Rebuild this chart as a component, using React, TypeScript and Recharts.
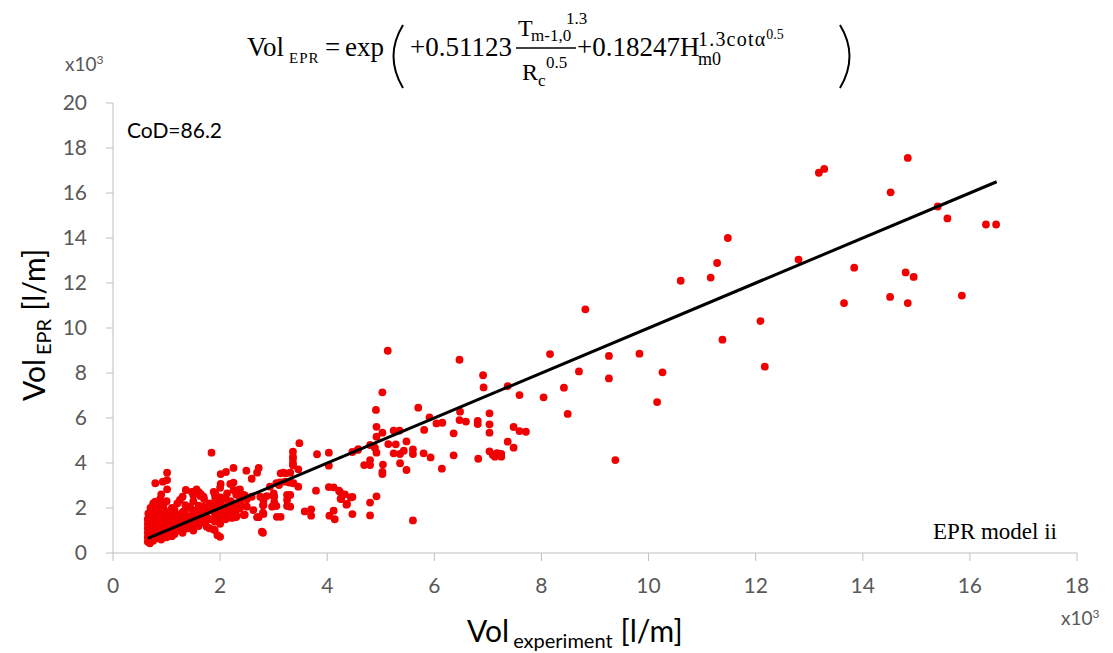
import { ScatterChart, Scatter, XAxis, YAxis } from 'recharts'

const RED = '#f00000'
const AXIS = '#bfbfbf'
const TICK_TXT = '#595959'
const SANS = 'Lato, "Open Sans", sans-serif'
const SERIF = '"Liberation Serif", "DejaVu Serif", serif'

const X_TICKS = [0, 2, 4, 6, 8, 10, 12, 14, 16, 18]
const Y_TICKS = [0, 2, 4, 6, 8, 10, 12, 14, 16, 18, 20]

// trend line end points (y = x), in x10^3 l/m
const FIT = [[0.65, 0.65], [16.5, 16.5]]

// dense cloud near the origin
const CLUSTER = [
  [0.65, 0.5], [0.65, 0.7], [0.65, 0.9], [0.65, 1.1], [0.65, 1.3], [0.65, 1.5],
  [0.7, 0.6], [0.7, 0.8], [0.7, 1.0], [0.7, 1.2], [0.7, 1.4], [0.7, 1.8], [0.7, 2.0],
  [0.75, 0.55], [0.75, 0.85], [0.75, 1.05], [0.75, 1.25], [0.75, 1.9], [0.75, 2.2],
  [0.8, 0.65], [0.8, 0.9], [0.8, 1.15], [0.8, 1.35], [0.8, 1.55], [0.8, 1.75], [0.8, 2.0],
  [0.85, 0.7], [0.85, 1.0], [0.85, 1.3], [0.85, 1.5], [0.85, 1.8], [0.85, 2.1],
  [0.9, 0.6], [0.9, 0.95], [0.9, 1.2], [0.9, 1.45], [0.9, 1.7], [0.9, 2.6],
  [0.95, 0.8], [0.95, 1.1], [0.95, 1.4], [0.95, 1.6], [0.95, 1.95],
  [1.0, 0.7], [1.0, 1.0], [1.0, 1.3], [1.0, 1.55], [1.0, 1.8], [1.0, 2.3],
  [1.05, 0.9], [1.05, 1.15], [1.05, 1.5], [1.05, 1.75],
  [1.1, 0.75], [1.1, 1.05], [1.1, 1.35], [1.1, 1.6], [1.1, 2.0],
  [1.15, 0.85], [1.15, 1.2], [1.15, 1.45], [1.15, 1.9],
  [1.2, 1.0], [1.2, 1.3], [1.2, 1.7], [1.2, 2.2],
  [1.3, 0.9], [1.3, 1.2], [1.3, 1.5], [1.3, 1.8], [1.3, 2.5],
  [1.4, 1.1], [1.4, 1.4], [1.4, 1.65], [1.4, 2.0],
  [1.5, 1.0], [1.5, 1.3], [1.5, 1.6], [1.5, 1.9], [1.5, 2.3],
  [1.6, 1.2], [1.6, 1.5], [1.6, 1.8], [1.6, 2.1], [1.6, 2.7],
  [1.7, 1.35], [1.7, 1.7], [1.7, 2.0], [1.7, 2.4],
  [1.8, 1.1], [1.8, 1.5], [1.8, 1.9], [1.8, 2.2],
  [1.9, 1.4], [1.9, 1.8], [1.9, 2.1], [1.9, 2.6],
  [2.0, 1.3], [2.0, 1.6], [2.0, 1.9], [2.0, 2.2], [2.0, 2.9],
  [2.1, 1.5], [2.1, 1.8], [2.1, 2.05], [2.1, 2.4],
  [2.2, 1.7], [2.2, 2.0], [2.2, 2.3],
  [2.3, 1.6], [2.3, 1.9], [2.3, 2.2], [2.3, 2.6],
  [2.4, 2.1], [2.4, 2.4],
]

// x below ~3
const LOW = [
  [1.84, 4.46], [0.79, 3.1], [1.01, 3.57], [1.01, 3.24], [1.01, 2.83], [2.01, 3.51], [2.11, 3.6],
  [2.25, 3.78], [2.49, 3.66], [2.72, 3.78], [2.69, 3.57], [2.59, 3.3], [2.01, 3.07], [2.19, 3.07],
  [2.25, 2.8], [1.36, 2.8], [1.56, 2.83], [1.5, 2.58], [1.63, 2.53], [1.91, 2.65], [1.91, 2.43],
  [2.01, 2.47], [2.35, 2.8], [2.35, 2.56], [2.46, 2.56], [2.5, 2.39], [2.81, 2.32], [3.0, 2.53],
  [3.18, 3.57], [3.31, 3.57], [3.36, 4.19], [3.36, 3.9], [2.8, 2.12], [3.01, 2.12], [2.8, 1.79],
  [2.69, 1.59], [2.8, 0.9], [2.46, 1.7], [2.31, 1.64], [2.22, 1.56], [1.9, 1.02], [2.0, 0.72],
  [1.95, 0.79], [0.93, 3.17], [1.47, 2.72], [1.64, 2.62], [0.79, 2.28], [0.88, 2.39], [0.94, 2.13],
  [1.25, 2.36], [1.35, 2.13], [1.44, 2.06], [1.31, 1.84], [1.25, 1.61], [0.66, 1.76], [0.75, 1.61],
  [0.69, 1.17], [0.66, 0.72], [0.69, 0.43], [2.25, 3.13], [1.88, 2.72], [1.93, 2.53], [2.13, 2.65],
  [2.31, 2.65], [2.37, 2.83], [2.44, 2.58], [2.59, 2.5], [2.75, 2.5], [2.87, 2.53], [3.0, 2.65],
  [3.1, 3.02], [1.69, 2.5], [1.69, 2.06], [1.81, 2.13], [1.94, 2.06], [2.03, 1.91], [2.12, 1.99],
  [2.22, 1.91], [2.31, 2.13], [2.37, 1.99], [2.5, 2.06], [2.62, 1.91], [2.81, 2.13], [2.97, 2.06],
  [1.75, 1.61], [1.91, 1.69], [2.0, 1.54], [2.13, 1.61], [2.25, 1.59], [2.44, 1.69], [2.72, 1.59],
  [2.81, 1.73], [3.06, 1.61], [1.66, 1.39], [1.75, 1.17], [1.88, 1.05], [2.78, 0.95],
]

// x between ~3 and 8
const MID = [
  [5.13, 8.99], [6.47, 8.59], [6.91, 7.9], [6.92, 7.36], [7.37, 7.42], [7.59, 7.02], [5.03, 7.14],
  [4.91, 6.36], [5.7, 6.46], [5.91, 6.03], [6.48, 6.28], [7.03, 6.21], [6.04, 5.76], [6.15, 5.79],
  [6.47, 5.91], [6.59, 5.84], [6.81, 5.87], [6.81, 5.73], [7.03, 5.72], [7.03, 5.35], [7.48, 5.6],
  [7.59, 5.42], [7.71, 5.39], [4.92, 5.61], [5.03, 5.35], [4.92, 5.17], [5.24, 5.44], [5.35, 5.44],
  [5.81, 5.47], [6.36, 5.32], [5.14, 4.84], [5.28, 4.83], [5.48, 4.96], [4.8, 4.8], [4.89, 4.68],
  [4.92, 4.46], [5.24, 4.43], [5.36, 4.4], [5.43, 4.55], [5.6, 4.61], [5.6, 4.4], [5.8, 4.43],
  [5.93, 4.25], [6.36, 4.34], [6.82, 4.19], [7.03, 4.52], [7.09, 4.37], [7.17, 4.44], [7.25, 4.4],
  [7.13, 4.28], [7.25, 4.28], [7.37, 4.95], [7.48, 4.68], [4.47, 4.49], [4.58, 4.62], [4.69, 3.91],
  [4.8, 3.91], [4.8, 4.13], [5.04, 3.93], [5.03, 3.61], [5.03, 3.51], [5.36, 3.99], [5.48, 3.69],
  [6.14, 3.75], [4.03, 4.46], [3.81, 4.39], [4.03, 3.88], [3.48, 4.88], [3.36, 4.5], [3.36, 4.28],
  [3.36, 3.99], [3.46, 3.72], [3.46, 2.95], [3.79, 2.77], [4.03, 2.93], [4.12, 2.92], [4.24, 2.71],
  [4.26, 2.4], [4.37, 2.18], [4.47, 2.49], [4.92, 2.52], [4.8, 2.24], [3.58, 1.85], [3.7, 1.94],
  [3.7, 1.66], [4.04, 1.66], [4.12, 1.88], [4.14, 1.5], [4.47, 1.73], [4.8, 1.67], [5.6, 1.45],
  [3.31, 3.13], [3.31, 2.58], [3.31, 2.06], [3.13, 3.54], [3.23, 3.54], [3.05, 3.1], [3.12, 3.14],
  [3.21, 3.17], [3.28, 3.14], [3.37, 3.1], [2.93, 2.95], [3.01, 2.5], [3.01, 2.27], [3.05, 2.09],
  [3.25, 2.58], [3.25, 2.36], [3.25, 2.09], [3.13, 1.61], [4.22, 2.77], [4.25, 2.41], [4.33, 2.61],
  [4.44, 2.47], [4.36, 2.15], [4.57, 4.58],
]

// x above 8
const HIGH = [
  [13.18, 16.9], [13.28, 17.07], [14.84, 17.56], [14.52, 16.03], [15.4, 15.4], [15.58, 14.87],
  [16.3, 14.6], [16.49, 14.6], [12.8, 13.04], [13.84, 12.68], [14.8, 12.47], [14.95, 12.27],
  [13.65, 11.11], [14.51, 11.38], [14.84, 11.11], [15.85, 11.44], [12.09, 10.31], [12.17, 8.28],
  [11.28, 12.89], [11.16, 12.24], [10.6, 12.1], [11.48, 14.0], [8.82, 10.83], [11.38, 9.48],
  [8.16, 8.84], [9.26, 8.76], [9.83, 8.86], [8.7, 8.07], [9.26, 7.76], [10.26, 8.03], [8.42, 7.35],
  [8.04, 6.92], [8.49, 6.18], [10.16, 6.71], [9.38, 4.13],
]

const toRows = (a: number[][]) => a.map(([x, y]) => ({ x, y }))
const points = toRows([...CLUSTER, ...LOW, ...MID, ...HIGH])
const fit = toRows(FIT)

const Dot = (p: { cx?: number; cy?: number }) =>
  p.cx == null || p.cy == null ? <g /> : <circle cx={p.cx} cy={p.cy} r={3.9} fill={RED} />

// ── Text overlay: formula, axis titles, notes ────────────────────────────────
function Overlay() {
  const big = 27, sub = 17
  return (
    <svg width={1113} height={653} style={{ position: 'absolute', left: 0, top: 0, pointerEvents: 'none' }}>
      {/* formula */}
      <g fontFamily={SERIF} fill="#000">
        <text x={247} y={56} fontSize={big}>Vol</text>
        <text x={289} y={63} fontSize={15} letterSpacing={1}>EPR</text>
        <text x={325} y={56} fontSize={big}>=</text>
        <text x={345} y={56} fontSize={big}>exp</text>
        <path d="M403 25 Q384 56 403 88" fill="none" stroke="#000" strokeWidth={2} />
        <text x={410} y={56} fontSize={big}>+0.51123</text>
        <text x={518} y={36} fontSize={24}>T</text>
        <text x={531} y={41} fontSize={sub}>m-1,0</text>
        <text x={566} y={24} fontSize={sub}>1.3</text>
        <line x1={516} x2={576} y1={48} y2={48} stroke="#000" strokeWidth={1.5} />
        <text x={522} y={80} fontSize={24}>R</text>
        <text x={538} y={86} fontSize={sub}>c</text>
        <text x={546} y={68} fontSize={sub}>0.5</text>
        <text x={577} y={56} fontSize={big}>+0.18247H</text>
        <text x={698} y={65} fontSize={18}>m0</text>
        <text x={698} y={46} fontSize={20} letterSpacing={1.2}>
          1.3cotα<tspan fontSize={14} dy={-7} letterSpacing={0}>0.5</tspan>
        </text>
        <path d="M840 25 Q859 56 840 88" fill="none" stroke="#000" strokeWidth={2} />
      </g>

      {/* multipliers */}
      <text x={65} y={71} fontFamily={SANS} fontSize={19} fill={TICK_TXT}>
        x10<tspan fontSize={12} dy={-7}>3</tspan>
      </text>
      <text x={1061} y={625} fontFamily={SANS} fontSize={19} fill={TICK_TXT}>
        x10<tspan fontSize={12} dy={-7}>3</tspan>
      </text>

      <text x={127} y={138} fontFamily={SANS} fontSize={21} fill="#000">CoD=86.2</text>
      <text x={1057} y={539} fontFamily={SERIF} fontSize={23} fill="#000" textAnchor="end">EPR model ii</text>

      {/* axis titles */}
      <text x={467} y={642} fontFamily={SANS} fontSize={30} fill="#000">
        Vol<tspan fontSize={20} dx={4} dy={6}>experiment</tspan>
        <tspan fontSize={30} dx={8} dy={-6}>[l/m]</tspan>
      </text>
      <text x={0} y={0} fontFamily={SANS} fontSize={30} fill="#000" textAnchor="middle"
        transform="translate(45 325) rotate(-90)">
        Vol<tspan fontSize={20} dx={4} dy={6}>EPR</tspan>
        <tspan fontSize={30} dx={8} dy={-6}>[l/m]</tspan>
      </text>
    </svg>
  )
}

export default function App() {
  return (
    <div style={{ position: 'absolute', left: 0, top: 0, width: 1113, height: 653, background: '#fff' }}>
      <ScatterChart width={1113} height={653} margin={{ top: 103, right: 36, bottom: 70, left: 53 }}>
        <XAxis type="number" dataKey="x" domain={[0, 18]} ticks={X_TICKS} interval={0}
          axisLine={{ stroke: AXIS }} tickLine={{ stroke: AXIS }} tickSize={8} tickMargin={17}
          tick={{ fill: TICK_TXT, fontSize: 21, fontFamily: SANS }} height={30} />
        <YAxis type="number" dataKey="y" domain={[0, 20]} ticks={Y_TICKS} interval={0}
          axisLine={{ stroke: AXIS }} tickLine={{ stroke: AXIS }} tickSize={7} tickMargin={19}
          tick={{ fill: TICK_TXT, fontSize: 21, fontFamily: SANS }} width={60} />
        <Scatter data={points} shape={Dot} isAnimationActive={false} />
        <Scatter data={fit} shape={() => <g />} line={{ stroke: '#000', strokeWidth: 3 }}
          lineType="joint" isAnimationActive={false} />
      </ScatterChart>
      <Overlay />
    </div>
  )
}
